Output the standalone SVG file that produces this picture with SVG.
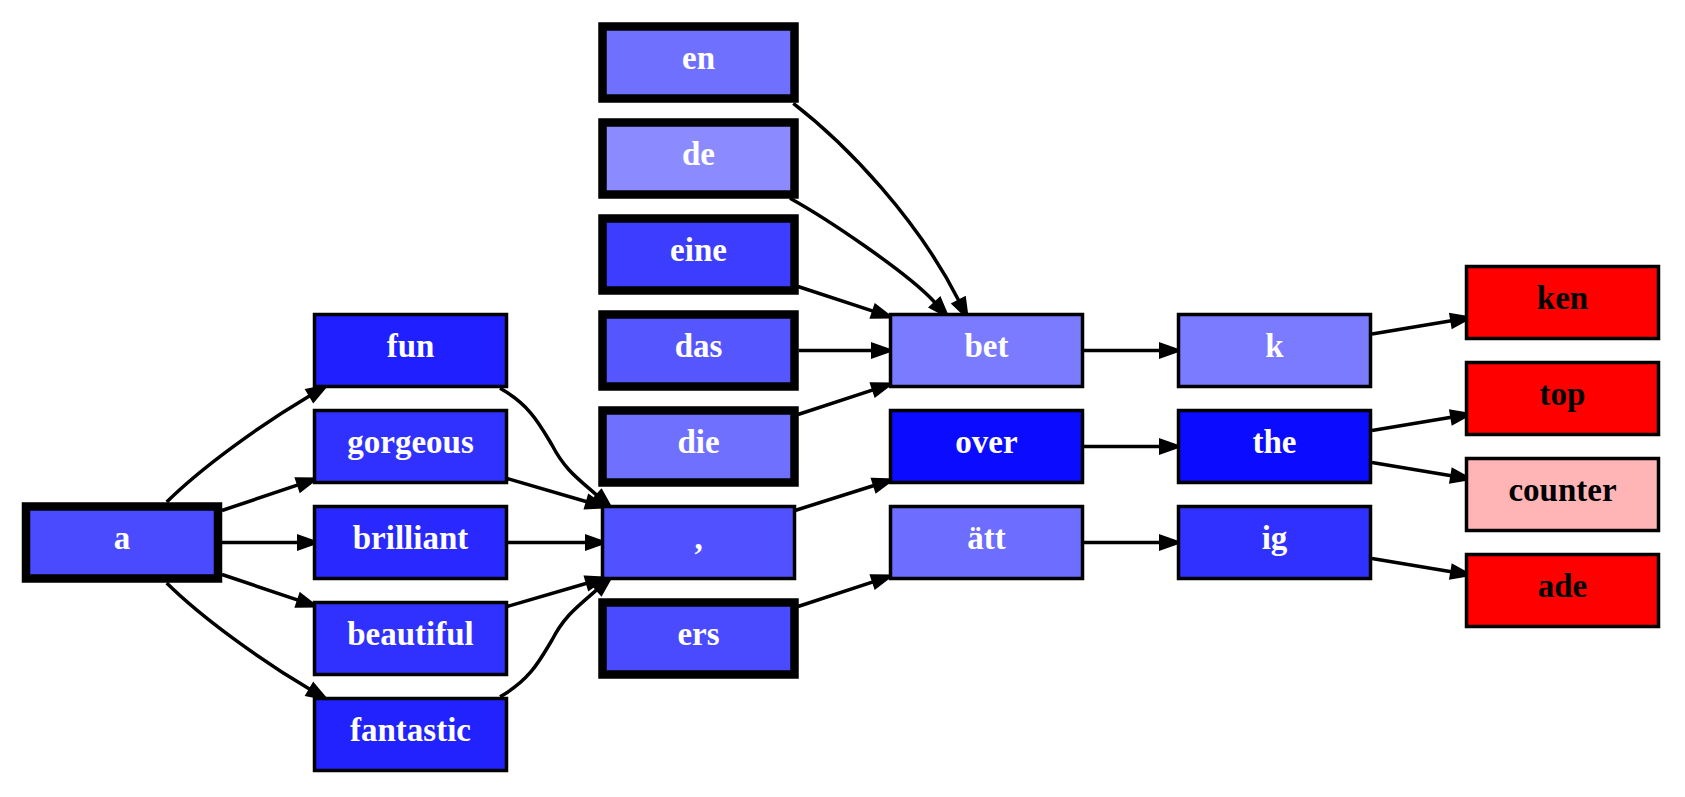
<svg xmlns="http://www.w3.org/2000/svg" width="1685" height="797" viewBox="0 0 1685 797">
<style>
.n rect{stroke:#000;stroke-width:3.5}
.n.t rect{stroke-width:8.5}
.n text{font-family:"Liberation Serif","Times New Roman",serif;font-weight:bold;font-size:33px;text-anchor:middle;fill:#fff}
.n.r text{fill:#000}
#edges path{fill:none;stroke:#000;stroke-width:3.5;marker-end:url(#arr)}
</style>
<defs>
<marker id="arr" markerUnits="userSpaceOnUse" markerWidth="24" markerHeight="18" refX="0" refY="7" orient="auto" overflow="visible">
<path d="M0,0 L20,7 L0,14 Z" fill="#000" stroke="#000" stroke-width="2"/>
</marker>
</defs>
<rect width="1685" height="797" fill="#fff"/>
<g id="edges">
<path d="M166.7,502 C202,467 262,424 309.8,395.7"/>
<path d="M222,510.5 L298,484.9"/>
<path d="M222,542.5 L298,542.5"/>
<path d="M222,574.5 L298,600.1"/>
<path d="M166.7,583 C202,618 262,661 309.8,689.3"/>
<path d="M500,388.3 C530,405 540,425 552,445 C565,470 578,478.6 596.7,495.1"/>
<path d="M507,478.5 L586.8,501.8"/>
<path d="M507,542.5 L586,542.5"/>
<path d="M507,606.5 L586.8,583.2"/>
<path d="M500,696.7 C530,680 540,660 552,640 C565,615 578,606.4 596.7,589.9"/>
<path d="M793.3,103.3 C848.6,146 918.2,220.4 958.7,300.5"/>
<path d="M790,198.3 C825,217.6 908.1,272.9 934.9,302.5"/>
<path d="M798,286.5 L873,311.2"/>
<path d="M798.5,350.5 L872,350.5"/>
<path d="M798,414.5 L873,389.8"/>
<path d="M795,510.5 L874,485.5"/>
<path d="M798,606.5 L873,581.8"/>
<path d="M1083,350.5 L1160,350.5"/>
<path d="M1083,446.5 L1160,446.5"/>
<path d="M1083,542.5 L1160,542.5"/>
<path d="M1372,334 L1451.3,320.8"/>
<path d="M1372,430.5 L1451.3,417.3"/>
<path d="M1372,462.5 L1451.3,475.7"/>
<path d="M1372,558.5 L1451.3,571.7"/>
</g>
<g id="node-a" class="n t"><rect x="26" y="506.5" width="192" height="72" fill="#4a4aff"/><text x="122" y="548.5">a</text></g>
<g id="node-fun" class="n"><rect x="314.5" y="314.5" width="192" height="72" fill="#1f1fff"/><text x="410.5" y="356.5">fun</text></g>
<g id="node-gorgeous" class="n"><rect x="314.5" y="410.5" width="192" height="72" fill="#3131ff"/><text x="410.5" y="452.5">gorgeous</text></g>
<g id="node-brilliant" class="n"><rect x="314.5" y="506.5" width="192" height="72" fill="#2828ff"/><text x="410.5" y="548.5">brilliant</text></g>
<g id="node-beautiful" class="n"><rect x="314.5" y="602.5" width="192" height="72" fill="#3030ff"/><text x="410.5" y="644.5">beautiful</text></g>
<g id="node-fantastic" class="n"><rect x="314.5" y="698.5" width="192" height="72" fill="#2222ff"/><text x="410.5" y="740.5">fantastic</text></g>
<g id="node-en" class="n t"><rect x="602.5" y="26.5" width="192" height="72" fill="#7070ff"/><text x="698.5" y="68.5">en</text></g>
<g id="node-de" class="n t"><rect x="602.5" y="122.5" width="192" height="72" fill="#8b8bff"/><text x="698.5" y="164.5">de</text></g>
<g id="node-eine" class="n t"><rect x="602.5" y="218.5" width="192" height="72" fill="#3d3dff"/><text x="698.5" y="260.5">eine</text></g>
<g id="node-das" class="n t"><rect x="602.5" y="314.5" width="192" height="72" fill="#5656ff"/><text x="698.5" y="356.5">das</text></g>
<g id="node-die" class="n t"><rect x="602.5" y="410.5" width="192" height="72" fill="#7070ff"/><text x="698.5" y="452.5">die</text></g>
<g id="node-comma" class="n"><rect x="602.5" y="506.5" width="192" height="72" fill="#5151ff"/><text x="698.5" y="548.5">,</text></g>
<g id="node-ers" class="n t"><rect x="602.5" y="602.5" width="192" height="72" fill="#4a4aff"/><text x="698.5" y="644.5">ers</text></g>
<g id="node-bet" class="n"><rect x="890.5" y="314.5" width="192" height="72" fill="#7b7bff"/><text x="986.5" y="356.5">bet</text></g>
<g id="node-over" class="n"><rect x="890.5" y="410.5" width="192" height="72" fill="#0b0bff"/><text x="986.5" y="452.5">over</text></g>
<g id="node-att" class="n"><rect x="890.5" y="506.5" width="192" height="72" fill="#6d6dff"/><text x="986.5" y="548.5">ätt</text></g>
<g id="node-k" class="n"><rect x="1178.5" y="314.5" width="192" height="72" fill="#7b7bff"/><text x="1274.5" y="356.5">k</text></g>
<g id="node-the" class="n"><rect x="1178.5" y="410.5" width="192" height="72" fill="#0b0bff"/><text x="1274.5" y="452.5">the</text></g>
<g id="node-ig" class="n"><rect x="1178.5" y="506.5" width="192" height="72" fill="#3030ff"/><text x="1274.5" y="548.5">ig</text></g>
<g id="node-ken" class="n r"><rect x="1466.5" y="266.5" width="192" height="72" fill="#ff0000"/><text x="1562.5" y="308.5">ken</text></g>
<g id="node-top" class="n r"><rect x="1466.5" y="362.5" width="192" height="72" fill="#ff0000"/><text x="1562.5" y="404.5">top</text></g>
<g id="node-counter" class="n r"><rect x="1466.5" y="458.5" width="192" height="72" fill="#ffb5b5"/><text x="1562.5" y="500.5">counter</text></g>
<g id="node-ade" class="n r"><rect x="1466.5" y="554.5" width="192" height="72" fill="#ff0000"/><text x="1562.5" y="596.5">ade</text></g>
</svg>
